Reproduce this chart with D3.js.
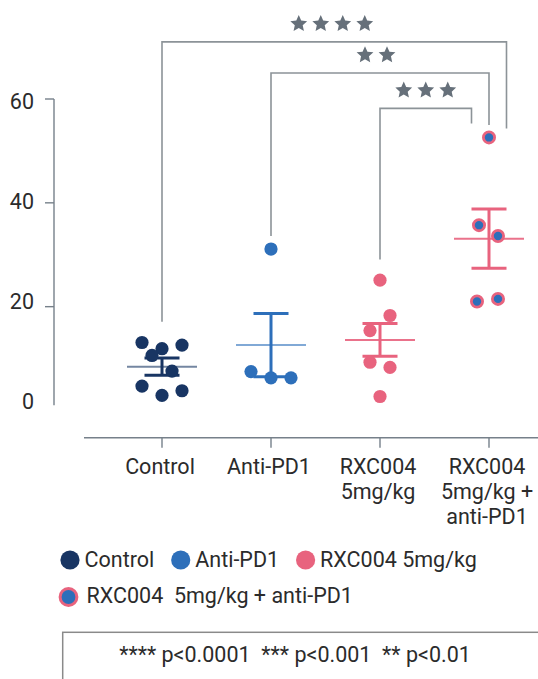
<!DOCTYPE html>
<html><head><meta charset="utf-8">
<script src="https://cdn.jsdelivr.net/npm/d3@7"></script>
<style>
body{margin:0;background:#fff}
svg text{font-family:Roboto, "Noto Sans", sans-serif;fill:#2b2b2b}
</style>
</head><body>
<svg id="c" width="538" height="679"></svg>
<script>
// ---------- data ----------
const categories = ["Control", "Anti-PD1", "RXC004 5mg/kg", "RXC004 5mg/kg + anti-PD1"];
const axisLabelLines = [["Control"], ["Anti-PD1"], ["RXC004", "5mg/kg"], ["RXC004", "5mg/kg +", "anti-PD1"]];
const controlValues = [13.1, 11.9, 12.6, 10.6, 7.6, 4.7, 3.8, 2.9];
const antiPD1Values = [31.1, 7.5, 6.3, 6.3];
const rxc004Values = [25.1, 18.3, 15.4, 9.3, 8.3, 2.7];
const comboValues = [52.6, 35.7, 33.6, 21.0, 21.5];
const groupMeans = [8.45, 12.6, 13.6, 33.1];
const groupSEM = [1.65, 6.1, 3.15, 5.7];
const jitterSlots = [[-2, 0, 2, -1, 1, -2, 2, 0], [0, -2, 0, 2], [0, 1, -1, -1, 1, 0], [0, -1, 0.9, -1.2, 0.9]];
const yTickValues = [0, 20, 40, 60];
const comparisonFrom = [0, 1, 2];
const comparisonTo = [3, 3, 3];
const comparisonStars = [4, 2, 3];
const comparisonLevel = [71.0, 65.0, 58.2];
const comparisonFromEnd = [17.1, 33.6, 29.1];
const comparisonToEnd = [54.3, 55.0, 55.3];
const legendRow1 = ["Control", "Anti-PD1", "RXC004 5mg/kg"];
const legendRow2 = ["RXC004  5mg/kg + anti-PD1"];
const footnote = "**** p<0.0001  *** p<0.001  ** p<0.01";

const groupValues = [controlValues, antiPD1Values, rxc004Values, comboValues];

// ---------- style ----------
const navy = "#183563", blue = "#2d6fba", pink = "#e8637e";
const fills = [navy, blue, pink, blue];
const strokesC = [navy, blue, pink, pink];
const axisColor = "#76808a", bracketColor = "#8c9398", starColor = "#66707a";
const fs = "21.5px";

const svg = d3.select("#c");

// ---------- scales ----------
const x = d3.scalePoint().domain(categories).range([162, 489]);
const y = d3.scaleLinear().domain([0, 60]).range([410.5, 99]);
const yLabel = d3.scaleLinear().domain([0, 60]).range([401.7, 101.7]);

// ---------- y axis ----------
const yAxisG = svg.append("g");
yAxisG.append("line").attr("x1", 54).attr("x2", 54).attr("y1", y(60)).attr("y2", y(1))
  .attr("stroke", axisColor).attr("stroke-width", 1.4);
yAxisG.selectAll("line.tk").data(yTickValues.filter(d => d > 0)).join("line").attr("class", "tk")
  .attr("x1", 45).attr("x2", 54).attr("y1", d => y(d)).attr("y2", d => y(d))
  .attr("stroke", axisColor).attr("stroke-width", 1.4);
yAxisG.selectAll("text").data(yTickValues).join("text")
  .attr("x", 34).attr("y", d => yLabel(d)).attr("dy", "0.36em")
  .attr("text-anchor", "end").style("font-size", fs).text(d => d);

// ---------- x axis ----------
const xAxisY = 437.8;
svg.append("line").attr("x1", 84).attr("x2", 538).attr("y1", xAxisY).attr("y2", xAxisY)
  .attr("stroke", axisColor).attr("stroke-width", 1.4);
svg.selectAll("line.xt").data(categories).join("line").attr("class", "xt")
  .attr("x1", d => x(d)).attr("x2", d => x(d)).attr("y1", xAxisY).attr("y2", xAxisY + 10)
  .attr("stroke", axisColor).attr("stroke-width", 1.4);
const xl = svg.selectAll("text.xl").data(categories).join("text").attr("class", "xl")
  .attr("text-anchor", "middle").style("font-size", fs);
xl.each(function (d, i) {
  d3.select(this).selectAll("tspan").data(axisLabelLines[i]).join("tspan")
    .attr("x", x(d) - 2).attr("y", (t, j) => 474 + j * 25).text(t => t);
});

// ---------- significance brackets ----------
const bracketG = svg.append("g");
const fatStar = {
  draw(ctx, size) {
    const R = Math.sqrt(size), r = R * 0.47;
    for (let k = 0; k < 10; k++) {
      const a = -Math.PI / 2 + k * Math.PI / 5, rr = k % 2 ? r : R;
      const px = rr * Math.cos(a), py = rr * Math.sin(a);
      k ? ctx.lineTo(px, py) : ctx.moveTo(px, py);
    }
    ctx.closePath();
  }
};
const star = d3.symbol().type(fatStar).size(78);
comparisonFrom.forEach((f, i) => {
  const x1 = x(categories[f]);
  const x2 = x(categories[comparisonTo[i]]) + (1 - i) * 17.5;
  const yl = y(comparisonLevel[i]);
  bracketG.append("path")
    .attr("d", `M${x1},${y(comparisonFromEnd[i])}V${yl}H${x2}V${y(comparisonToEnd[i])}`)
    .attr("fill", "none").attr("stroke", bracketColor).attr("stroke-width", 1.6);
  const n = comparisonStars[i], sp = 22, cx = (x1 + x2) / 2 - (i === 1 ? 4 : i === 0 ? 2.5 : 0);
  d3.range(n).forEach(k => {
    bracketG.append("path").attr("d", star)
      .attr("transform", `translate(${cx + (k - (n - 1) / 2) * sp},${yl - 18})`)
      .attr("fill", starColor);
  });
});

// ---------- error bars & means ----------
const groupsG = svg.append("g");
categories.forEach((c, i) => {
  const cx = x(c);
  const g = groupsG.append("g");
  g.append("line").attr("x1", cx - 35).attr("x2", cx + 35)
    .attr("y1", y(groupMeans[i])).attr("y2", y(groupMeans[i]))
    .attr("stroke", strokesC[i]).attr("stroke-opacity", i < 2 ? 0.6 : 0.9).attr("stroke-width", 2);
  const lo = y(groupMeans[i] - groupSEM[i]), hi = y(groupMeans[i] + groupSEM[i]);
  g.append("line").attr("x1", cx).attr("x2", cx).attr("y1", lo).attr("y2", hi)
    .attr("stroke", strokesC[i]).attr("stroke-width", 3);
  [lo, hi].forEach(yy => g.append("line").attr("x1", cx - 17.5).attr("x2", cx + 17.5)
    .attr("y1", yy).attr("y2", yy).attr("stroke", strokesC[i]).attr("stroke-width", 3));
});

// ---------- points ----------
const slotW = 10;
groupValues.forEach((vals, i) => {
  const cx = x(categories[i]);
  const pts = groupsG.append("g").selectAll("circle").data(vals).join("circle")
    .attr("cx", (d, j) => cx + jitterSlots[i][j] * slotW)
    .attr("cy", d => y(d));
  if (i === 3) {
    pts.attr("r", 5.6).attr("fill", blue).attr("stroke", pink).attr("stroke-width", 2.8);
  } else {
    pts.attr("r", 6.6).attr("fill", fills[i]);
  }
});

// ---------- legend ----------
const legG = svg.append("g").style("font-size", fs);
let lx = 70;
legendRow1.forEach((t, i) => {
  legG.append("circle").attr("cx", lx).attr("cy", 560).attr("r", 9.6).attr("fill", fills[i]);
  const tx = legG.append("text").attr("x", lx + 14.5).attr("y", 567).text(t);
  const w = tx.node().getComputedTextLength();
  lx = lx + 14.5 + w + 26.5;
});
legendRow2.forEach(t => {
  legG.append("circle").attr("cx", 68.5).attr("cy", 597).attr("r", 8.4)
    .attr("fill", blue).attr("stroke", pink).attr("stroke-width", 3);
  legG.append("text").attr("x", 86.5).attr("y", 603).style("white-space", "pre").text(t);
});

// ---------- footnote box ----------
svg.append("rect").attr("x", 62.7).attr("y", 632.3).attr("width", 500).attr("height", 100)
  .attr("fill", "none").attr("stroke", "#8a8a8a").attr("stroke-width", 1.5);
svg.append("text").attr("x", 295).attr("y", 662).attr("text-anchor", "middle")
  .style("font-size", fs).style("white-space", "pre").text(footnote);
</script>
</body></html>
